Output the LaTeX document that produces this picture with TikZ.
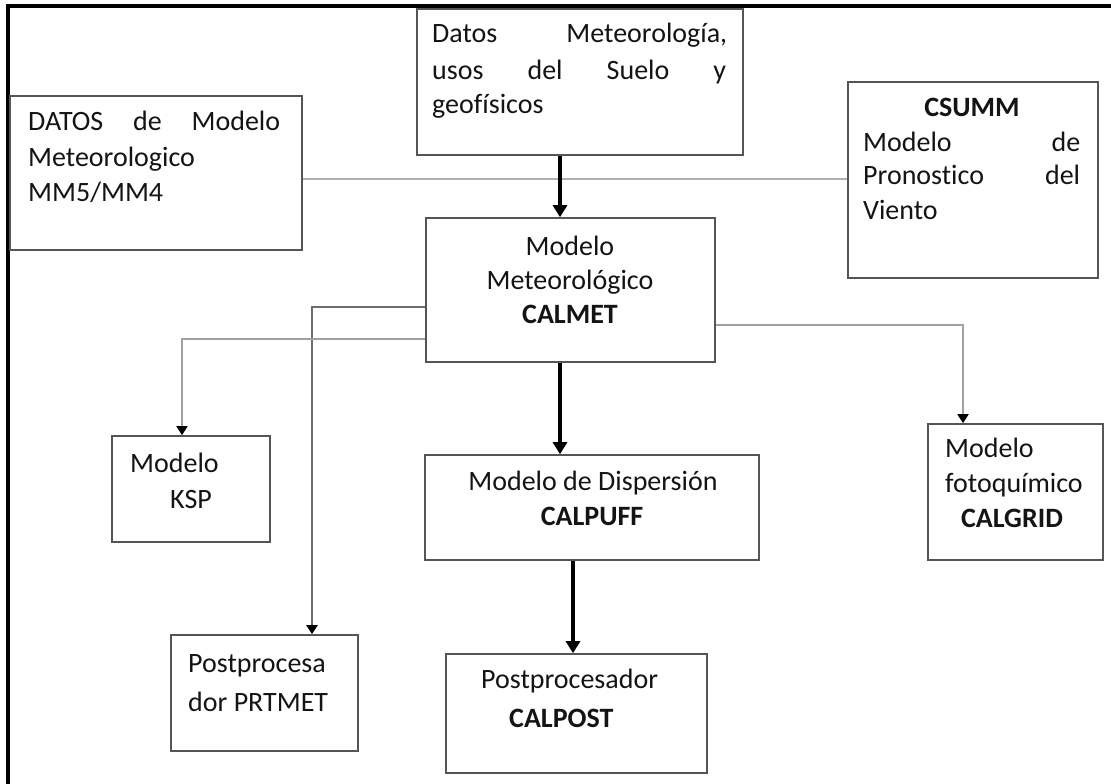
\documentclass[tikz,border=0pt]{standalone}
\usepackage{fontspec}
\setmainfont{Carlito}[Ligatures=NoCommon]
\usetikzlibrary{arrows.meta,calc}
\definecolor{boxc}{RGB}{85,85,85}
\definecolor{lightln}{RGB}{175,175,175}
\definecolor{midln}{RGB}{160,160,160}
\definecolor{darkln}{RGB}{110,110,110}
\definecolor{txtc}{RGB}{20,20,20}
\tikzset{
  box/.style={draw=boxc, line width=1.6pt, fill=white, inner sep=0pt, rectangle},
  txt/.style={inner sep=0pt, text=txtc, font=\fontsize{28}{34}\selectfont},
  thickarrow/.style={line width=4.2pt, black, -{Triangle[width=14pt,length=12pt]}},
  thinarrow/.style={-{Triangle[width=11pt,length=9pt,black]}},
  grayline/.style={line width=2.2pt, lightln},
}
\begin{document}
\begin{tikzpicture}[x=1pt,y=-1pt]
\useasboundingbox (0,0) rectangle (1111,784);
\clip (0,0) rectangle (1111,784);
% frame
\draw[line width=3.2pt, black] (8,800) -- (8,6) -- (1130,6);
% boxes
\node[box, minimum width=292pt, minimum height=154pt] (A) at (156,173) {};
\node[box, minimum width=326pt, minimum height=146pt] (B) at (580,82) {};
\node[box, minimum width=250pt, minimum height=196pt] (C) at (973,180) {};
\node[box, minimum width=289pt, minimum height=144pt] (D) at (570.5,290) {};
\node[box, minimum width=158pt, minimum height=106pt] (E) at (191,489) {};
\node[box, minimum width=334pt, minimum height=105pt] (F) at (592,507.5) {};
\node[box, minimum width=175pt, minimum height=136pt] (G) at (1015.5,492) {};
\node[box, minimum width=187pt, minimum height=116pt] (H) at (264.5,693) {};
\node[box, minimum width=261pt, minimum height=119pt] (I) at (576.5,713.5) {};
% texts A
\node[txt, anchor=base west] (a1) at (28,130) {\hbox to 252pt{DATOS\hfill de\hfill Modelo}};
\node[txt, anchor=base west] (a2) at (28,166) {Meteorologico};
\node[txt, anchor=base west] (a3) at (28,201) {MM5/MM4};
% texts B
\node[txt, anchor=base west] (b1) at (432,43) {\hbox to 295pt{Datos\hfill Meteorología,}};
\node[txt, anchor=base west] (b2) at (432,79) {\hbox to 294pt{usos\hfill del\hfill Suelo\hfill y}};
\node[txt, anchor=base west] (b3) at (432,113) {geofísicos};
% texts C
\node[txt, anchor=base] (c1) at (972,116) {\textbf{CSUMM}};
\node[txt, anchor=base west] (c2) at (863,151) {\hbox to 217pt{Modelo\hfill de}};
\node[txt, anchor=base west] (c3) at (863,184) {\hbox to 217pt{Pronostico\hfill del}};
\node[txt, anchor=base west] (c4) at (863,219) {Viento};
% texts D
\node[txt, anchor=base] (d1) at (570,255) {Modelo};
\node[txt, anchor=base] (d2) at (570,289) {Meteorológico};
\node[txt, anchor=base] (d3) at (570,323) {\textbf{CALMET}};
% texts E
\node[txt, anchor=base west] (e1) at (130,472) {Modelo};
\node[txt, anchor=base west] (e2) at (170,508) {KSP};
% texts F
\node[txt, anchor=base] (f1) at (593,490) {Modelo de Dispersión};
\node[txt, anchor=base] (f2) at (592,525) {\textbf{CALPUFF}};
% texts G
\node[txt, anchor=base west] (g1) at (945,457) {Modelo};
\node[txt, anchor=base west] (g2) at (945,492) {fotoquímico};
\node[txt, anchor=base] (g3) at (1012,527) {\textbf{CALGRID}};
% texts H
\node[txt, anchor=base west] (h1) at (188,672) {Postprocesa};
\node[txt, anchor=base west] (h2) at (188,711) {dor PRTMET};
% texts I
\node[txt, anchor=base west] (i1) at (481,688) {Postprocesador};
\node[txt, anchor=base west] (i2) at (509,727) {\textbf{CALPOST}};
% thin connectors
\draw[grayline] (A.east |- 0,179) -- (C.west |- 0,179);
\draw[line width=2pt, darkln, thinarrow] (D.west |- 0,307) -| (H.north -| 312,0);
\draw[line width=1.6pt, midln, thinarrow] (D.west |- 0,339) -| (E.north -| 182,0);
\draw[line width=1.8pt, midln, thinarrow] (D.east |- 0,325) -| (G.north -| 963,0);
% thick connectors
\draw[thickarrow] (B.south -| 560,0) -- (D.north -| 560,0);
\draw[thickarrow] (D.south -| 560,0) -- (F.north -| 560,0);
\draw[thickarrow] (F.south -| 573,0) -- (I.north -| 573,0);
\end{tikzpicture}
\end{document}
